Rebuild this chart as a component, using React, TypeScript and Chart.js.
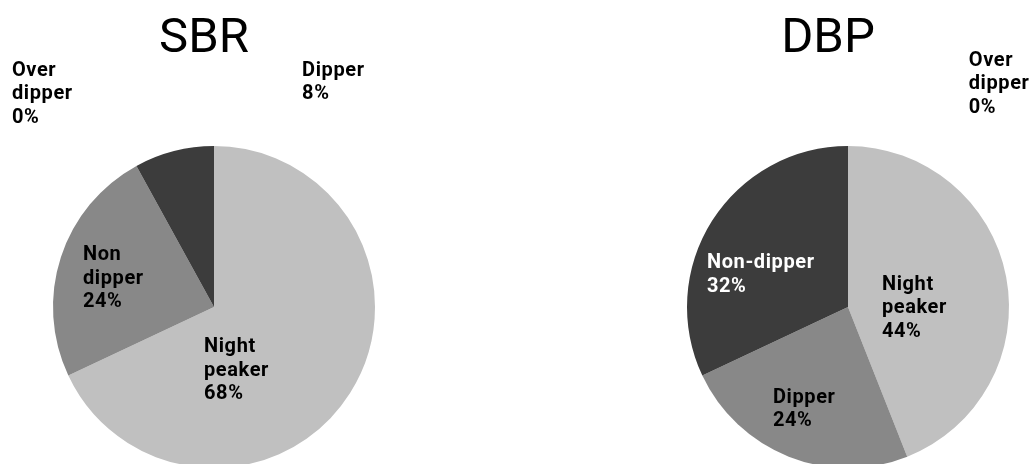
import React, { useEffect, useRef } from "react";
import { Chart, registerables } from "chart.js";

Chart.register(...registerables);

// ---- data ----
const sbrTitle = "SBR";
const sbrCategories = ["Night peaker", "Non dipper", "Dipper", "Over dipper"];
const sbrLabelLines = [["Night", "peaker"], ["Non", "dipper"], ["Dipper"], ["Over", "dipper"]];
const sbrValues = [68, 24, 8, 0];

const dbpTitle = "DBP";
const dbpCategories = ["Night peaker", "Dipper", "Non-dipper", "Over dipper"];
const dbpLabelLines = [["Night", "peaker"], ["Dipper"], ["Non-dipper"], ["Over", "dipper"]];
const dbpValues = [44, 24, 32, 0];

// ---- styles ----
const LIGHT = "#c0c0c0";
const MID = "#888888";
const DARK = "#3c3c3c";

const sbrColors = [LIGHT, MID, DARK, "#a0a0a0"];
const dbpColors = [LIGHT, MID, DARK, "#a0a0a0"];

// label placement relative to pie centre, in units of radius (x = left edge, y = first baseline)
const sbrPlacements = [[-0.062, 0.28], [-0.814, -0.29], [0.547, -1.435], [-1.255, -1.435]];
const sbrLabelColors = ["#000", "#000", "#000", "#000"];
const dbpPlacements = [[0.211, -0.106], [-0.466, 0.596], [-0.876, -0.242], [0.75, -1.497]];
const dbpLabelColors = ["#000", "#000", "#fff", "#000"];

const W = 428;
const H = 470;
const R = 161;
const CX = 214;
const CY = 307;

const labelPlugin = {
  id: "sliceLabels",
  afterDraw(chart: any, _args: any, opts: any) {
    const meta = chart.getDatasetMeta(0);
    const arc = meta.data[0];
    if (!arc) return;
    const { x, y, outerRadius } = arc.getProps(["x", "y", "outerRadius"], true);
    const ctx = chart.ctx;
    ctx.save();
    // title
    ctx.font = "400 49px Roboto";
    ctx.fillStyle = "#000";
    ctx.textAlign = "center";
    ctx.textBaseline = "alphabetic";
    ctx.fillText(opts.title, x + opts.titleDx, opts.titleY);
    // slice labels
    ctx.font = "700 20px Roboto";
    ctx.textAlign = "left";
    try { (ctx as any).letterSpacing = "0.6px"; } catch (e) {}
    const values = chart.data.datasets[0].data;
    opts.lines.forEach((lines: string[], i: number) => {
      const [fx, fy] = opts.placements[i];
      const lx = x + fx * outerRadius;
      let ly = y + fy * outerRadius;
      ctx.fillStyle = opts.colors[i];
      const all = [...lines, values[i] + "%"];
      all.forEach((t) => {
        ctx.fillText(t, lx, ly);
        ly += 23.5;
      });
    });
    ctx.restore();
  },
};

function PieChart(props: {
  title: string;
  titleDx: number;
  categories: string[];
  values: number[];
  colors: string[];
  lines: string[][];
  placements: number[][];
  labelColors: string[];
  left: number;
}) {
  const ref = useRef<HTMLCanvasElement>(null);
  useEffect(() => {
    if (!ref.current) return;
    const chart = new Chart(ref.current, {
      type: "pie",
      data: {
        labels: props.categories,
        datasets: [
          {
            data: props.values,
            backgroundColor: props.colors,
            borderWidth: 0,
          },
        ],
      },
      options: {
        responsive: false,
        animation: false,
        layout: {
          padding: { left: CX - R, right: W - CX - R, top: CY - R, bottom: H - CY - R },
        },
        plugins: {
          legend: { display: false },
          tooltip: { enabled: false },
          title: { display: false },
          sliceLabels: {
            title: props.title,
            titleDx: props.titleDx,
            titleY: 52,
            lines: props.lines,
            placements: props.placements,
            colors: props.labelColors,
          },
        } as any,
      },
      plugins: [labelPlugin],
    });
    return () => chart.destroy();
  }, []);
  return (
    <canvas
      ref={ref}
      width={W}
      height={H}
      style={{ position: "absolute", left: props.left, top: 0, width: W, height: H }}
    />
  );
}

export default function App() {
  return (
    <div
      style={{
        position: "absolute",
        left: 0,
        top: 0,
        width: 1034,
        height: 464,
        overflow: "hidden",
        background: "#fff",
      }}
    >
      <PieChart
        title={sbrTitle}
        titleDx={-10}
        categories={sbrCategories}
        values={sbrValues}
        colors={sbrColors}
        lines={sbrLabelLines}
        placements={sbrPlacements}
        labelColors={sbrLabelColors}
        left={0}
      />
      <PieChart
        title={dbpTitle}
        titleDx={-20}
        categories={dbpCategories}
        values={dbpValues}
        colors={dbpColors}
        lines={dbpLabelLines}
        placements={dbpPlacements}
        labelColors={dbpLabelColors}
        left={634}
      />
    </div>
  );
}
